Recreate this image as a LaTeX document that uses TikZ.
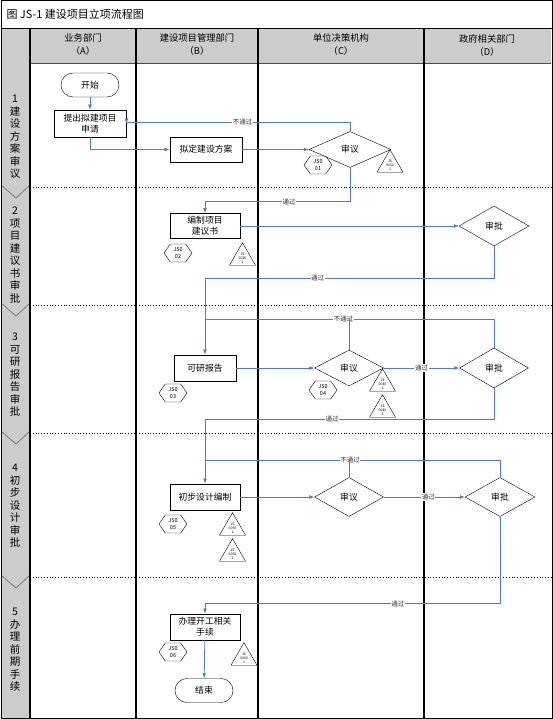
\documentclass[tikz,border=0pt]{standalone}
\usepackage{fontspec}
\setmainfont{Noto Sans CJK SC}
\usetikzlibrary{arrows.meta,shapes.geometric,shapes.symbols}
\definecolor{flow}{RGB}{79,124,196}
\definecolor{hdr}{RGB}{204,204,204}
\begin{document}
\begin{tikzpicture}[x=1pt,y=-1pt,
  proc/.style={draw, line width=0.9pt, align=center, inner sep=1pt,
    font=\fontsize{8.8}{11}\selectfont},
  term/.style={draw, rounded corners=12pt, minimum width=58pt, minimum height=24pt,
    font=\fontsize{8.8}{10}\selectfont},
  dec/.style={diamond, draw, inner sep=0pt, font=\fontsize{8.8}{10}\selectfont},
  hexa/.style={signal, signal to=west and east, signal pointer angle=110, draw,
    minimum width=28pt, minimum height=18pt, inner sep=0pt, align=center,
    font=\fontsize{5.5}{7}\selectfont},
  tri/.style={regular polygon, regular polygon sides=3, draw, minimum size=29pt,
    inner sep=0pt, align=center, font=\fontsize{3.5}{4}\selectfont},
  arr/.style={draw=flow, line width=0.8pt, -{Latex[length=5pt,width=4pt]}},
  ln/.style={draw=flow, line width=0.8pt},
  lbl/.style={fill=white, inner sep=0.6pt, font=\fontsize{6.5}{7}\selectfont, text=black!80},
  hd/.style={align=center, font=\fontsize{9.3}{13}\selectfont},
  stg/.style={align=center, font=\fontsize{10.5}{12.5}\selectfont}]
\useasboundingbox (0,0) rectangle (553,719);
% backgrounds
\fill[hdr] (1,28) rectangle (30,718);
\fill[hdr] (30,28) rectangle (551,63);
% dotted row separators
\foreach \yy in {187,305,433,577} {
  \draw[dotted, line width=0.8pt] (30,\yy) -- (551,\yy);
  \draw[black!60, line width=0.6pt] (1,\yy-2) -- (16,\yy+11) -- (30,\yy-2);
}
% frame
\draw[line width=1pt] (1,1) rectangle (552,718);
\draw[line width=0.8pt] (1,28) -- (552,28);
\draw[line width=0.5pt, black!70] (30,63) -- (551,63);
\foreach \xx in {30,136,258,424} {
  \draw[line width=1.2pt] (\xx,28) -- (\xx,718);
}
% title and headers
\node[anchor=west, font=\fontsize{11}{12}\selectfont] (title) at (3,14) {图 JS-1 建设项目立项流程图};
\node[hd] (hA) at (83,45) {业务部门\\（A）};
\node[hd] (hB) at (197,45) {建设项目管理部门\\（B）};
\node[hd] (hC) at (341,45) {单位决策机构\\（C）};
\node[hd] (hD) at (487,45) {政府相关部门\\（D）};
% stage labels
\node[stg] (s1) at (15,137) {1\\建\\设\\方\\案\\审\\议};
\node[stg] (s2) at (15,255) {2\\项\\目\\建\\议\\书\\审\\批};
\node[stg] (s3) at (15,375) {3\\可\\研\\报\\告\\审\\批};
\node[stg] (s4) at (15,506) {4\\初\\步\\设\\计\\审\\批};
\node[stg] (s5) at (15,650) {5\\办\\理\\前\\期\\手\\续};

% row 1
\node[term] (start) at (90,85) {开始};
\node[proc, minimum width=72pt, minimum height=27pt] (req) at (90,123.5) {提出拟建项目\\申请};
\node[proc, minimum width=72pt, minimum height=25pt] (plan) at (206,149.5) {拟定建设方案};
\node[dec, minimum width=82pt, minimum height=36pt] (rev1) at (350,149.5) {审议};
\node[hexa] (h1) at (318,165) {JS0\\01};
\node[tri] (t1) at (390,164.7) {JS\\0010\\1};

% row 2
\node[proc, minimum width=70pt, minimum height=25pt] (prop) at (205,226) {编制项目\\建议书};
\node[hexa] (h2) at (178,253) {JS0\\02};
\node[tri] (t2) at (242.5,257.7) {JS\\0020\\1};
\node[dec, minimum width=70pt, minimum height=40pt] (apr2) at (494,226) {审批};

% row 3
\node[proc, minimum width=62pt, minimum height=26pt] (feas) at (205,368) {可研报告};
\node[hexa] (h3) at (173,393) {JS0\\03};
\node[dec, minimum width=69pt, minimum height=36pt] (rev3) at (349,368) {审议};
\node[hexa] (h4) at (323,390) {JS0\\04};
\node[tri] (t3) at (382.5,383.7) {JS\\0040\\1};
\node[tri] (t4) at (382.5,409.7) {JS\\0040\\2};
\node[dec, minimum width=69pt, minimum height=40pt] (apr3) at (494,368) {审批};

% row 4
\node[proc, minimum width=70pt, minimum height=26pt] (design) at (205,497) {初步设计编制};
\node[hexa] (h5) at (173,524) {JS0\\05};
\node[tri] (t5) at (232.5,527.7) {JS\\0050\\1};
\node[tri] (t6) at (232.5,553.7) {JS\\0050\\2};
\node[dec, minimum width=69pt, minimum height=39pt] (rev4) at (349,497) {审议};
\node[dec, minimum width=70pt, minimum height=39pt] (apr4) at (500,497) {审批};

% row 5
\node[proc, minimum width=70pt, minimum height=26pt] (handle) at (205,627) {办理开工相关\\手续};
\node[hexa] (h6) at (173,652) {JS0\\06};
\node[tri] (t7) at (244,657.7) {JS\\0060\\1};
\node[term] (end) at (204,690.5) {结束};

% connectors row 1
\draw[arr] (start) -- (req);
\draw[arr] (req.south) |- (plan.west);
\draw[arr] (plan.east) -- (rev1.west);
\draw[arr] (rev1.north) -- ++(0,-9) -| node[lbl, pos=0.24] {不通过} (req.east |- 0,123.5) ;
\draw[arr] (rev1.south) -- ++(0,34) -| node[lbl, pos=0.21] {通过} (prop.north);
% row 2
\draw[arr] (prop.east) -- (apr2.west);
\draw[arr] (apr2.south) -- ++(0,32) -| node[lbl, pos=0.305] {通过} (feas.north);
% row 3
\draw[arr] (feas.east) -- (rev3.west);
\draw[arr] (rev3.east) -- node[lbl] {通过} (apr3.west);
\coordinate (c3) at (205,319);
\draw[ln] (apr3.north) |- node[lbl, pos=0.76] {不通过} (c3);
\draw[ln] (rev3.north) -- (rev3.north |- c3);
\draw[arr] (apr3.south) -- ++(0,31) -| node[lbl, pos=0.28] {通过} (design.north);
% row 4
\draw[arr] (design.east) -- (rev4.west);
\draw[arr] (rev4.east) -- node[lbl, pos=0.55] {通过} (apr4.west);
\coordinate (c4) at (205,460);
\draw[ln] (apr4.north) |- node[lbl, pos=0.754] {不通过} (c4);
\draw[ln] (rev4.north) -- (rev4.north |- c4);
\draw[arr] (apr4.south) -- ++(0,87) -| node[lbl, pos=0.173] {通过} (handle.north);
% row 5
\draw[arr] (handle) -- (end);
\end{tikzpicture}
\end{document}
